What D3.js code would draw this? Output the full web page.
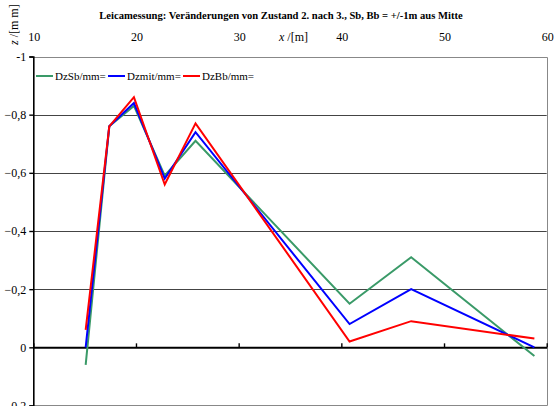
<!DOCTYPE html>
<html>
<head>
<meta charset="utf-8">
<script src="https://cdn.jsdelivr.net/npm/d3@7"></script>
<style>
  html, body { margin: 0; padding: 0; background: #fff; }
  svg { display: block; }
  svg text { font-family: "Liberation Serif", "DejaVu Serif", "Times New Roman", serif !important; fill: #000; }
</style>
</head>
<body>
<script>
// Stations along the beam [m]
const stations = [15.1, 17.4, 19.8, 22.8, 25.8, 40.8, 46.8, 58.8];
// Vertical change per measuring line [mm]
const dzSb  = [0.06, -0.76, -0.83, -0.59, -0.71, -0.15, -0.31, 0.03];
const dzMit = [0.00, -0.76, -0.84, -0.58, -0.74, -0.08, -0.20, 0.00];
const dzBb  = [-0.06, -0.76, -0.86, -0.56, -0.77, -0.02, -0.09, -0.03];

const seriesNames  = ["DzSb/mm=", "Dzmit/mm=", "DzBb/mm="];
const seriesColors = ["#3a9a68", "#0000ff", "#ff0000"];
const xTicks = [10, 20, 30, 40, 50, 60];
const yTicks = [-1, -0.8, -0.6, -0.4, -0.2, 0, 0.2];
const titleText = "Leicamessung: Veränderungen von Zustand 2. nach 3., Sb, Bb = +/-1m aus Mitte";

const W = 559, H = 406;
const plot = { left: 33.3, right: 546.7, top: 56.5, bottom: 405.5 };
const serif = "'Liberation Serif', 'DejaVu Serif', serif";

const svg = d3.select("body").append("svg").attr("width", W).attr("height", H)
  .attr("font-family", serif);

const x = d3.scaleLinear().domain([10, 60]).range([plot.left, plot.right]);
const y = d3.scaleLinear().domain([-1, 0.2]).range([plot.top, plot.bottom]);

const fmt = v => (v === 0 ? "0" : (v === -1 ? "-1" : d3.format(".1f")(v).replace(".", ",")));

// Horizontal gridlines
svg.append("g").selectAll("line")
  .data(yTicks.filter(v => v !== 0 && v !== -1 && v !== 0.2))
  .join("line")
  .attr("x1", plot.left).attr("x2", plot.right)
  .attr("y1", d => Math.round(y(d)) + 0.5).attr("y2", d => Math.round(y(d)) + 0.5)
  .attr("stroke", "#444").attr("stroke-width", 1);

// Frame (top, right, bottom)
svg.append("path")
  .attr("d", `M${plot.left},${Math.round(plot.top) + 0.5}H${Math.round(plot.right) + 0.5}V${Math.round(plot.bottom) - 0.5}H${plot.left}`)
  .attr("fill", "none").attr("stroke", "#888").attr("stroke-width", 1);

// Y axis on the left
const yAxis = d3.axisLeft(y).tickValues(yTicks).tickFormat(fmt).tickSize(4).tickPadding(3);
const gy = svg.append("g").attr("transform", `translate(${plot.left},0)`).call(yAxis)
  .attr("font-family", serif).attr("font-size", 12);
gy.select(".domain").attr("stroke", "#000").attr("stroke-width", 1.6);
gy.selectAll(".tick line").attr("stroke", "#000").attr("stroke-width", 1.4);

// X axis along z = 0, ticks pointing up
const xAxis = d3.axisTop(x).tickValues(xTicks).tickFormat("").tickSize(4).tickSizeOuter(0);
const gx = svg.append("g").attr("transform", `translate(0,${y(0)})`).call(xAxis);
gx.select(".domain").attr("stroke", "#000").attr("stroke-width", 2);
gx.selectAll(".tick line").attr("stroke", "#000").attr("stroke-width", 1.4);

// X tick labels above the plot
svg.append("g").selectAll("text")
  .data(xTicks)
  .join("text")
  .attr("x", d => x(d) + 1).attr("y", 41)
  .attr("text-anchor", "middle")
  .attr("font-size", 12)
  .text(d => d);

// Axis titles
const xl = svg.append("text").attr("x", 279).attr("y", 41).attr("font-size", 12);
xl.append("tspan").attr("font-style", "italic").text("x");
xl.append("tspan").text(" /[m]");

const yl = svg.append("text")
  .attr("transform", "translate(18,45) rotate(-90)")
  .attr("font-size", 12);
yl.append("tspan").attr("font-style", "italic").text("z");
yl.append("tspan").text(" /[m m]");

// Chart title
svg.append("text")
  .attr("x", 281).attr("y", 19)
  .attr("text-anchor", "middle")
  .attr("font-size", 10.6).attr("font-weight", "bold")
  .text(titleText);

// Series lines
const series = [dzSb, dzMit, dzBb];
const line = d3.line().x((d, i) => x(stations[i])).y(d => y(d));
svg.append("g").selectAll("path")
  .data(series)
  .join("path")
  .attr("d", d => line(d))
  .attr("fill", "none")
  .attr("stroke", (d, i) => seriesColors[i])
  .attr("stroke-width", 2)
  .attr("stroke-linejoin", "miter");

// Legend
const legendX = [36, 108, 183];
const lg = svg.append("g").selectAll("g")
  .data(seriesNames)
  .join("g")
  .attr("transform", (d, i) => `translate(${legendX[i]},76)`);
lg.append("line")
  .attr("x1", 0).attr("x2", 17).attr("y1", 0).attr("y2", 0)
  .attr("stroke", (d, i) => seriesColors[i]).attr("stroke-width", 2);
lg.append("text")
  .attr("x", 19).attr("y", 4)
  .attr("font-size", 11)
  .text(d => d);
</script>
</body>
</html>
